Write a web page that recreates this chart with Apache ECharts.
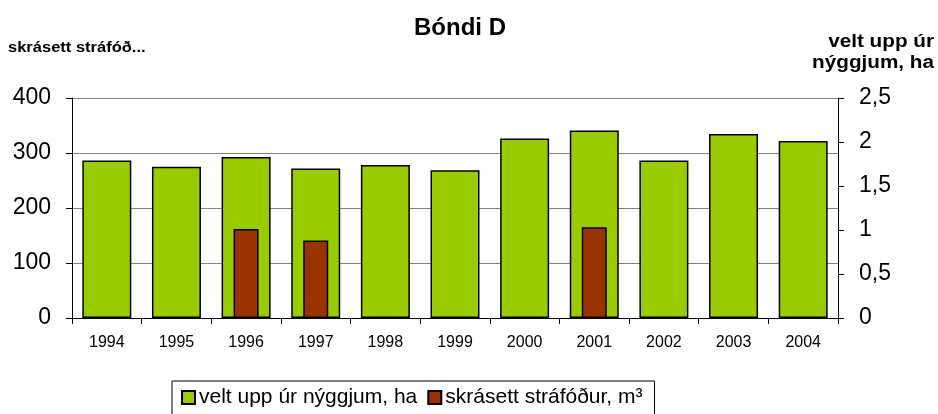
<!DOCTYPE html>
<html><head><meta charset="utf-8">
<script src="https://cdn.jsdelivr.net/npm/echarts@6/dist/echarts.min.js"></script>
<style>html,body{margin:0;padding:0;background:#fff}#c{width:938px;height:414px}</style>
</head><body><div id="c"></div>
<script>
const years = ['1994','1995','1996','1997','1998','1999','2000','2001','2002','2003','2004'];
const veltHa = [1.79, 1.72, 1.83, 1.70, 1.74, 1.68, 2.04, 2.13, 1.79, 2.09, 2.01];
const strafodur = [null, null, 162, 141, null, null, null, 165, null, null, null];
const leftTicks = {min: 0, max: 400, interval: 100};
const rightTicks = {min: 0, max: 2.5, interval: 0.5};
const FONT = 'Liberation Sans, Arial, sans-serif';

const chart = echarts.init(document.getElementById('c'), null, {renderer: 'canvas'});
chart.setOption({
  animation: false,
  backgroundColor: '#fff',
  textStyle: {fontFamily: FONT},
  title: {text: 'Bóndi D', left: 455, top: 11, textAlign: 'center',
    textStyle: {fontFamily: FONT, fontSize: 24, fontWeight: 'bold', color: '#000'}},
  graphic: [
    {type: 'text', x: 8, y: 40, scaleX: 1.1, originX: 0, originY: 0,
      style: {text: 'skrásett stráfóð...', font: 'bold 15px ' + FONT, fill: '#000', align: 'left', verticalAlign: 'top'}},
    {type: 'text', x: 934, y: 32, scaleX: 1.15, originX: 0, originY: 0,
      style: {text: 'velt upp úr\nnýggjum, ha', font: 'bold 18px ' + FONT, fill: '#000', align: 'right', verticalAlign: 'top', lineHeight: 21}}
  ],
  grid: {left: 72, right: 100, top: 98, bottom: 96},
  legend: {
    data: ['velt upp úr nýggjum, ha', 'skrásett stráfóður, m³'],
    left: 172, top: 381, itemWidth: 13, itemHeight: 13, itemGap: 10,
    borderColor: '#000', borderWidth: 1, padding: [6, 12, 7, 9],
    icon: 'rect',
    textStyle: {fontFamily: FONT, fontSize: 21, color: '#000', padding: [0, 0, 0, -1]}
  },
  xAxis: [
    {type: 'category', data: years, boundaryGap: true,
      axisLine: {lineStyle: {color: '#000', width: 1}},
      axisTick: {show: true, length: 6, lineStyle: {color: '#000'}},
      axisLabel: {color: '#000', fontSize: 16, margin: 17, fontFamily: FONT}},
    {type: 'category', data: years, show: false}
  ],
  yAxis: [
    {type: 'value', min: leftTicks.min, max: leftTicks.max, interval: leftTicks.interval, position: 'left',
      axisLine: {show: true, lineStyle: {color: '#000'}},
      axisTick: {show: true, length: 6, inside: false, lineStyle: {color: '#000'}},
      axisLabel: {color: '#000', fontSize: 23, margin: 21, fontFamily: FONT},
      splitLine: {show: true, lineStyle: {color: '#808080', width: 1}}},
    {type: 'value', min: rightTicks.min, max: rightTicks.max, interval: rightTicks.interval, position: 'right',
      axisLine: {show: true, lineStyle: {color: '#000'}},
      axisTick: {show: true, length: 6, lineStyle: {color: '#000'}},
      axisLabel: {color: '#000', fontSize: 23, margin: 21, fontFamily: FONT,
        formatter: v => String(v).replace('.', ',')},
      splitLine: {show: false}}
  ],
  series: [
    {name: 'velt upp úr nýggjum, ha', type: 'bar', data: veltHa, xAxisIndex: 0, yAxisIndex: 1,
      barWidth: 49, itemStyle: {color: '#99cc00', borderColor: '#000', borderWidth: 1.5}},
    {name: 'skrásett stráfóður, m³', type: 'bar', data: strafodur, xAxisIndex: 1, yAxisIndex: 0,
      barWidth: 25, itemStyle: {color: '#993300', borderColor: '#000', borderWidth: 1.5}}
  ]
});
</script></body></html>
